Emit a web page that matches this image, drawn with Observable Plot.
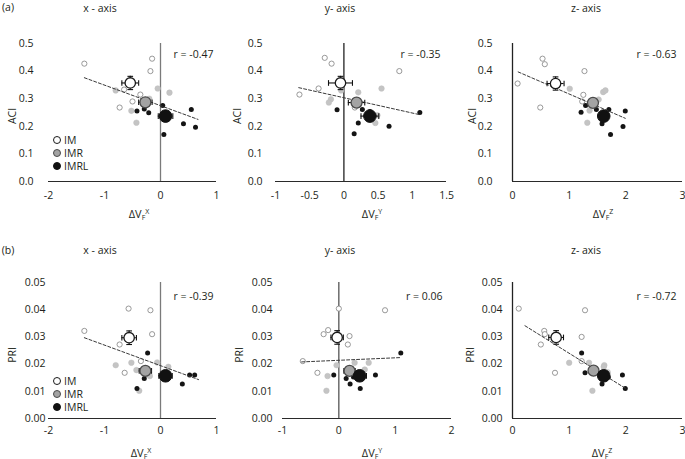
<!DOCTYPE html>
<html><head><meta charset="utf-8">
<script src="https://cdn.jsdelivr.net/npm/d3@7"></script>
<script src="https://cdn.jsdelivr.net/npm/@observablehq/plot@0.6"></script>
<style>
body{margin:0;background:#fff;font-family:"Open Sans",sans-serif;color:#231f20}
#root{position:relative;width:685px;height:459px;overflow:hidden;background:#fff}
.t{position:absolute;white-space:nowrap;line-height:1;font-size:10.5px;transform:translate(-50%,-50%)}
.yl{position:absolute;white-space:nowrap;line-height:1;font-size:10.5px;transform:translate(-50%,-50%) rotate(-90deg)}
.lg{position:absolute;white-space:nowrap;line-height:10px;height:10px;font-size:10.5px;transform:translateY(-50%);display:flex;align-items:center}
.sw{display:inline-block;flex:none;width:8px;height:8px;border-radius:50%;box-sizing:border-box;margin-right:3px}
.sub{font-size:7px;position:relative;top:2px}
.sup{font-size:7px;position:relative;top:-4px}
svg{position:absolute}
</style></head><body><div id="root"></div>
<script>
// ---------- data ----------
const groups = ["IM", "IMR", "IMRL"];
const rowTitles = ["(a)", "(b)"];
const axisTitles = ["x - axis", "y- axis", "z- axis"];
const axisSup = ["X", "Y", "Z"];
const yNames = ["ACI", "PRI"];

const aciTicks = [0, 0.1, 0.2, 0.3, 0.4, 0.5];
const priTicks = [0, 0.01, 0.02, 0.03, 0.04, 0.05];
const xTicksX = [-2, -1, 0, 1];
const xTicksYa = [-1, -0.5, 0, 0.5, 1, 1.5];
const xTicksYb = [-1, 0, 1, 2];
const xTicksZ = [0, 1, 2, 3];

// individual subjects: [group, x, y]
const aciX_pts = [
  ["IM",-1.36,0.427],["IM",-0.15,0.445],["IM",-0.18,0.40],["IM",-0.36,0.315],["IM",-0.50,0.29],["IM",-0.73,0.268],["IM",-0.65,0.333],
  ["IMR",-0.80,0.33],["IMR",-0.05,0.337],["IMR",0.16,0.322],["IMR",-0.52,0.256],["IMR",-0.43,0.213],["IMR",-0.20,0.30],
  ["IMRL",-0.42,0.255],["IMRL",-0.29,0.263],["IMRL",-0.21,0.249],["IMRL",0.04,0.275],["IMRL",0.55,0.261],["IMRL",0.41,0.209],["IMRL",0.625,0.197],["IMRL",0.06,0.17]
];
const aciY_pts = [
  ["IM",-0.28,0.448],["IM",-0.18,0.427],["IM",0.81,0.40],["IM",-0.37,0.337],["IM",-0.65,0.315],["IM",0.16,0.268],
  ["IMR",-0.04,0.33],["IMR",0.21,0.323],["IMR",0.55,0.337],["IMR",-0.19,0.298],["IMR",-0.22,0.286],["IMR",0.46,0.212],["IMR",0.49,0.24],
  ["IMRL",-0.10,0.26],["IMRL",0.22,0.277],["IMRL",0.27,0.261],["IMRL",0.38,0.254],["IMRL",0.21,0.212],["IMRL",0.15,0.173],["IMRL",0.66,0.20],["IMRL",1.11,0.25]
];
const aciZ_pts = [
  ["IM",0.09,0.355],["IM",0.53,0.445],["IM",0.57,0.425],["IM",1.27,0.40],["IM",0.49,0.268],["IM",1.25,0.314],["IM",1.23,0.29],
  ["IMR",1.01,0.336],["IMR",1.60,0.324],["IMR",1.64,0.33],["IMR",1.52,0.297],["IMR",1.36,0.257],["IMR",1.32,0.213],
  ["IMRL",1.29,0.275],["IMRL",1.21,0.251],["IMRL",1.48,0.261],["IMRL",1.70,0.261],["IMRL",1.99,0.255],["IMRL",1.58,0.209],["IMRL",1.95,0.199],["IMRL",1.73,0.17]
];
const priX_pts = [
  ["IM",-1.36,0.0322],["IM",-0.57,0.0404],["IM",-0.18,0.0398],["IM",-0.15,0.031],["IM",-0.73,0.0272],["IM",-0.35,0.0211],["IM",-0.64,0.0168],
  ["IMR",-0.80,0.0196],["IMR",-0.52,0.0205],["IMR",-0.43,0.0178],["IMR",-0.38,0.0102],["IMR",-0.06,0.0206],["IMR",0.14,0.019],["IMR",-0.19,0.0156],
  ["IMRL",-0.23,0.0241],["IMRL",-0.29,0.0147],["IMRL",-0.42,0.011],["IMRL",0.52,0.016],["IMRL",0.61,0.016],["IMRL",0.39,0.0127],["IMRL",0.04,0.0157]
];
const priY_pts = [
  ["IM",0.0,0.0404],["IM",0.82,0.0398],["IM",-0.19,0.0325],["IM",-0.27,0.031],["IM",0.19,0.0303],["IM",0.16,0.0272],["IM",-0.64,0.0211],["IM",-0.38,0.0168],
  ["IMR",-0.04,0.0196],["IMR",0.28,0.0205],["IMR",0.53,0.0205],["IMR",-0.20,0.0156],["IMR",-0.22,0.0102],["IMR",0.46,0.018],
  ["IMRL",-0.09,0.016],["IMRL",0.13,0.0147],["IMRL",0.20,0.0127],["IMRL",0.38,0.011],["IMRL",0.65,0.016],["IMRL",1.10,0.0241],["IMRL",0.26,0.0153]
];
const priZ_pts = [
  ["IM",0.11,0.0404],["IM",1.28,0.0398],["IM",0.56,0.0322],["IM",0.57,0.031],["IM",1.22,0.030],["IM",0.50,0.0272],["IM",1.22,0.0211],["IM",0.75,0.0168],
  ["IMR",1.00,0.0205],["IMR",1.35,0.0205],["IMR",1.62,0.0196],["IMR",1.41,0.0102],["IMR",1.61,0.019],["IMR",1.68,0.017],
  ["IMRL",1.22,0.0241],["IMRL",1.28,0.0168],["IMRL",1.94,0.016],["IMRL",1.99,0.011],["IMRL",1.58,0.0127],["IMRL",1.69,0.0152],["IMRL",1.55,0.0155]
];

// group means: [group, x, y, xErr, yErr]
const aciX_means = [["IM",-0.54,0.357,0.15,0.024],["IMR",-0.27,0.287,0.12,0.008],["IMRL",0.09,0.237,0.13,0.008]];
const aciY_means = [["IM",-0.05,0.357,0.175,0.024],["IMR",0.185,0.286,0.12,0.008],["IMRL",0.38,0.237,0.13,0.008]];
const aciZ_means = [["IM",0.76,0.355,0.15,0.024],["IMR",1.42,0.285,0.06,0.008],["IMRL",1.61,0.237,0.06,0.008]];
const priX_means = [["IM",-0.56,0.0297,0.13,0.0025],["IMR",-0.27,0.0175,0.11,0.001],["IMRL",0.09,0.0157,0.12,0.001]];
const priY_means = [["IM",-0.03,0.0298,0.11,0.0025],["IMR",0.19,0.0175,0.10,0.001],["IMRL",0.37,0.0157,0.12,0.001]];
const priZ_means = [["IM",0.77,0.0298,0.13,0.0025],["IMR",1.43,0.0176,0.05,0.001],["IMRL",1.61,0.0157,0.05,0.001]];

// regression line end points
const aciX_fit = [[-1.36,0.376],[0.67,0.225]];
const aciY_fit = [[-0.66,0.340],[1.11,0.242]];
const aciZ_fit = [[0.10,0.397],[1.99,0.229]];
const priX_fit = [[-1.36,0.0297],[0.68,0.0143]];
const priY_fit = [[-0.66,0.0208],[1.10,0.0224]];
const priZ_fit = [[0.22,0.0341],[2.00,0.0110]];

const rValues = ["-0.47", "-0.35", "-0.63", "-0.39", "0.06", "-0.72"];

// ---------- styles / layout ----------
const smallStyle = {
  IM: {fill: "#fff", stroke: "#808080", strokeWidth: 0.8, r: 2.6},
  IMR: {fill: "#c4c4c4", stroke: "#bdbdbd", strokeWidth: 0.5, r: 2.8},
  IMRL: {fill: "#141414", r: 2.5}
};
const meanStyle = {
  IM: {fill: "#fff", stroke: "#1a1a1a", strokeWidth: 1.3, r: 5.2},
  IMR: {fill: "#a3a3a3", stroke: "#4a4a4a", strokeWidth: 1.3, r: 5.5},
  IMRL: {fill: "#111", stroke: "#111", strokeWidth: 1, r: 6.3}
};
const capV = {draw(ctx, size) { const h = Math.sqrt(size) / 2; ctx.moveTo(0, -h); ctx.lineTo(0, h); }};
const capH = {draw(ctx, size) { const h = Math.sqrt(size) / 2; ctx.moveTo(-h, 0); ctx.lineTo(h, 0); }};

const panels = [
  {pts: aciX_pts, means: aciX_means, fit: aciX_fit, xDom: [-2, 1], xTicks: xTicksX, row: 0, fl: 48, fr: 216, pad: 15, zero: "#7a7a7a", rdx: -3},
  {pts: aciY_pts, means: aciY_means, fit: aciY_fit, xDom: [-1, 1.5], xTicks: xTicksYa, row: 0, fl: 275, fr: 446, pad: 13, zero: "#222", rdx: -6},
  {pts: aciZ_pts, means: aciZ_means, fit: aciZ_fit, xDom: [0, 3], xTicks: xTicksZ, row: 0, fl: 512, fr: 682, pad: 20, zero: "#222", rdx: -6},
  {pts: priX_pts, means: priX_means, fit: priX_fit, xDom: [-2, 1], xTicks: xTicksX, row: 1, fl: 48, fr: 216, pad: 3, zero: "#7a7a7a", rdx: -3},
  {pts: priY_pts, means: priY_means, fit: priY_fit, xDom: [-1, 2], xTicks: xTicksYb, row: 1, fl: 282, fr: 451, pad: 10, zero: "#555", rdx: -9},
  {pts: priZ_pts, means: priZ_means, fit: priZ_fit, xDom: [0, 3], xTicks: xTicksZ, row: 1, fl: 512, fr: 682, pad: 10, zero: "#222", rdx: -6}
];
const rows = [
  {top: 43, bottom: 181, yDom: [0, 0.5], yTicks: aciTicks, fmt: d3.format(".1f"), xPad: 10, rdy: 7},
  {top: 282, bottom: 418, yDom: [0, 0.05], yTicks: priTicks, fmt: d3.format(".2f"), xPad: 8, rdy: 10}
];

const root = document.getElementById("root");
const ML = 48, MR = 10, MT = 18, MB = 40;

panels.forEach((p, i) => {
  const R = rows[p.row];
  const frameW = p.fr - p.fl, frameH = R.bottom - R.top;
  const marks = [
    Plot.ruleY([0], {stroke: "#2a2a2a", strokeWidth: 1.2}),
    Plot.ruleX([0], {stroke: p.zero, strokeWidth: 1.3}),
    ...groups.map(g => Plot.dot(p.pts.filter(d => d[0] === g), {x: d => d[1], y: d => d[2], ...smallStyle[g]})),
    Plot.line(p.fit, {x: d => d[0], y: d => d[1], stroke: "#3a3a3a", strokeWidth: 1, strokeDasharray: "3,2"}),
    Plot.ruleY(p.means, {y: d => d[2], x1: d => d[1] - d[3], x2: d => d[1] + d[3], stroke: "#111", strokeWidth: 1.1}),
    Plot.ruleX(p.means, {x: d => d[1], y1: d => d[2] - d[4], y2: d => d[2] + d[4], stroke: "#111", strokeWidth: 1.1}),
    Plot.dot(p.means, {x: d => d[1] - d[3], y: d => d[2], symbol: capV, r: 3.2, stroke: "#111", strokeWidth: 1.1, fill: "none"}),
    Plot.dot(p.means, {x: d => d[1] + d[3], y: d => d[2], symbol: capV, r: 3.2, stroke: "#111", strokeWidth: 1.1, fill: "none"}),
    Plot.dot(p.means, {x: d => d[1], y: d => d[2] + d[4], symbol: capH, r: 3.2, stroke: "#111", strokeWidth: 1.1, fill: "none"}),
    Plot.dot(p.means, {x: d => d[1], y: d => d[2] - d[4], symbol: capH, r: 3.2, stroke: "#111", strokeWidth: 1.1, fill: "none"}),
    ...groups.map(g => Plot.dot(p.means.filter(d => d[0] === g), {x: d => d[1], y: d => d[2], ...meanStyle[g]})),
    Plot.text(["r = " + rValues[i]], {frameAnchor: "top-right", text: d => d, textAnchor: "end", dx: p.rdx, dy: R.rdy, fontSize: 10.5, fill: "#231f20"})
  ];
  const svg = Plot.plot({
    width: ML + frameW + MR,
    height: MT + frameH + MB,
    marginLeft: ML, marginRight: MR, marginTop: MT, marginBottom: MB,
    style: {fontFamily: "'Open Sans', sans-serif", fontSize: "10.5px", color: "#231f20", background: "none", overflow: "visible"},
    x: {domain: p.xDom, ticks: p.xTicks, tickSize: 0, tickPadding: R.xPad, tickFormat: d => String(d), label: null},
    y: {domain: R.yDom, ticks: R.yTicks, tickSize: 0, tickPadding: p.pad, tickFormat: R.fmt, label: null},
    marks
  });
  svg.style.left = (p.fl - ML) + "px";
  svg.style.top = (R.top - MT) + "px";
  root.appendChild(svg);
});

function addText(cls, html, x, y, extra) {
  const el = document.createElement("div");
  el.className = cls;
  el.innerHTML = html;
  el.style.left = x + "px";
  el.style.top = y + "px";
  if (extra) Object.assign(el.style, extra);
  root.appendChild(el);
}

// row letters
addText("t", rowTitles[0], 8, 7);
addText("t", rowTitles[1], 8, 250);
// column titles
const titleX = [100, 340, 586];
[8, 250].forEach(ty => axisTitles.forEach((t, c) => addText("t", t, titleX[c], ty)));
// y labels
const yLabX = [[12, 237, 472], [12, 239, 470]];
[116, 355].forEach((ly, r) => yLabX[r].forEach(lx => addText("yl", yNames[r], lx, ly)));
// x labels
const xLabX = [[139, 372, 603], [141, 372, 602]];
[213, 452].forEach((ly, r) => xLabX[r].forEach((lx, c) =>
  addText("t", "ΔV<span class='sub'>F</span><span class='sup'>" + axisSup[c] + "</span>", lx, ly, {fontSize: "11px"})));
// legends
const swatch = {
  IM: "background:#fff;border:1.2px solid #1a1a1a",
  IMR: "background:#a3a3a3;border:1.2px solid #4a4a4a",
  IMRL: "background:#111;border:1.2px solid #111"
};
[[140, 153, 166], [381, 394, 407]].forEach(ys => groups.forEach((g, k) =>
  addText("lg", "<span class='sw' style='" + swatch[g] + "'></span>" + g, 53, ys[k])));
</script></body></html>
